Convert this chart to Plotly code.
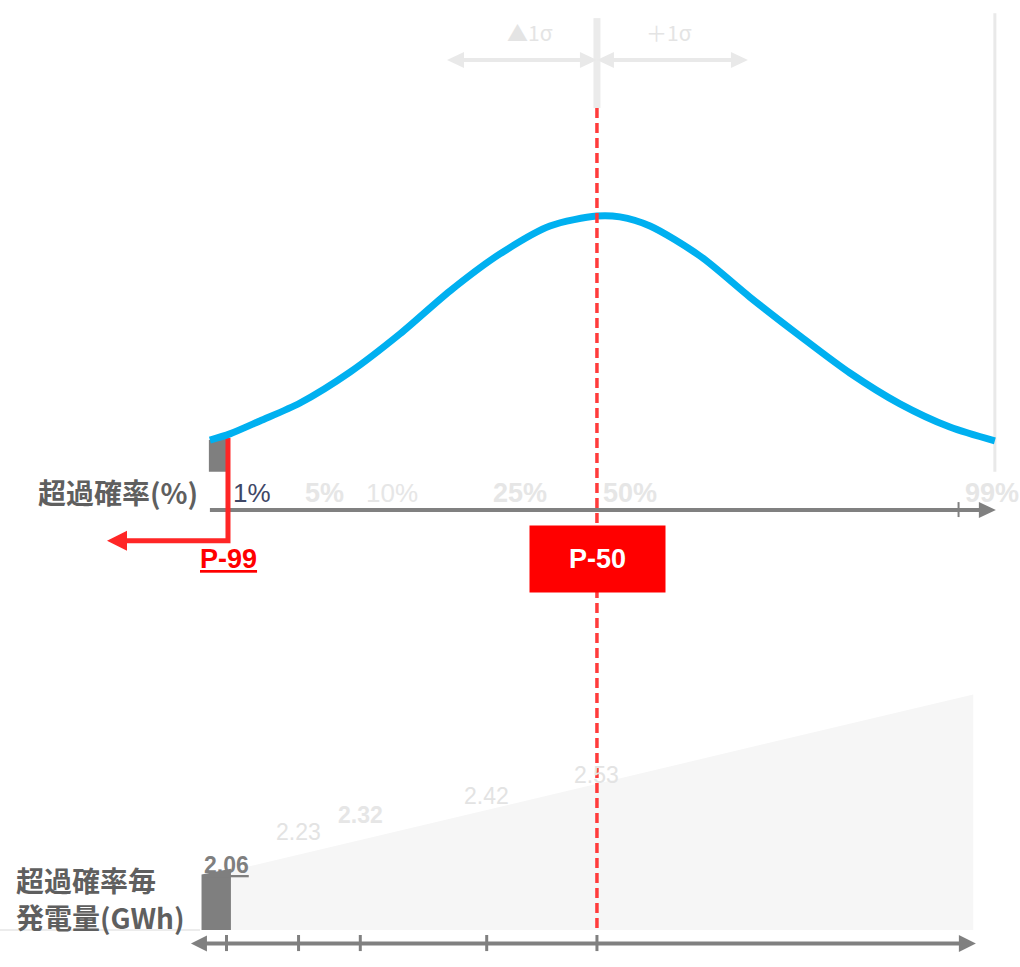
import plotly.graph_objects as go

W, H = 1020, 967

# ---------------- data ----------------
# Distribution curve: x in σ from P-50, y as density relative to the peak
curve_sigma = [-2.633, -2.497, -2.293, -2.020, -1.680, -1.340, -1.000, -0.660,
               -0.320, 0.0, 0.156, 0.361, 0.701, 1.041, 1.381, 1.721, 2.061,
               2.401, 2.707]
curve_density = [0.238, 0.259, 0.303, 0.364, 0.469, 0.599, 0.745, 0.871,
                 0.966, 1.000, 0.997, 0.966, 0.864, 0.724, 0.592, 0.466, 0.361,
                 0.282, 0.235]

# Exceedance-probability categories and their position on the σ axis
pct_labels = ["1%", "5%", "10%", "25%", "50%", "99%"]
pct_sigma = [-2.52, -2.03, -1.61, -0.75, 0.0, 2.46]

# Generation per exceedance probability (GWh)
energy_labels = ["2.06", "2.23", "2.32", "2.42", "2.53"]
energy_gwh = [2.06, 2.23, 2.32, 2.42, 2.53]

# Generation band (GWh) and the P-99 bar
band_sigma = [-2.49, 2.56]
band_top_gwh = [2.06, 2.98]
p99_bar_sigma = [-2.69, -2.49]
p99_bar_top_gwh = [2.04, 2.07]

# ---------------- axes ----------------
X_RANGE = [-4.061, 2.878]      # σ
D_RANGE = [-1.5544, 1.7347]    # relative density
G_RANGE = [1.5568, 6.6064]     # GWh
PX_X = W / (X_RANGE[1] - X_RANGE[0])
PX_D = H / (D_RANGE[1] - D_RANGE[0])
PX_G = H / (G_RANGE[1] - G_RANGE[0])

BASE_GWH = 1.75       # floor of the generation band
AXIS_GWH = 1.68       # lower arrow axis

LAT = "Liberation Sans, Arial, sans-serif"
CJK = "Noto Sans CJK JP, Noto Sans CJK SC, sans-serif"

GRID_GRAY = "#e9e9e9"
AXIS_GRAY = "#808080"
RED = "#ff2626"

fig = go.Figure()


def line(xs, ys, color, width, yaxis="y", dash=None):
    fig.add_trace(go.Scatter(
        x=xs, y=ys, yaxis=yaxis, mode="lines",
        line=dict(color=color, width=width, dash=dash),
        hoverinfo="skip", showlegend=False))


def poly(xs, ys, color, yaxis="y"):
    fig.add_trace(go.Scatter(
        x=xs, y=ys, yaxis=yaxis, mode="lines", fill="toself",
        fillcolor=color, line=dict(width=0, color=color),
        hoverinfo="skip", showlegend=False))


def head(tip_x, tip_y, direction, color, yaxis="y", length=17, half=8):
    """Filled triangular arrowhead; direction +1 points right, -1 left."""
    py = PX_D if yaxis == "y" else PX_G
    dx = length / PX_X * direction
    dy = half / py
    poly([tip_x, tip_x - dx, tip_x - dx, tip_x],
         [tip_y, tip_y + dy, tip_y - dy, tip_y], color, yaxis)
    return tip_x - dx


# ---- upper panel (density axis) ----
# light guide at P-50 above the dashed line
line([0, 0], [1.367, 1.673], "#ebebeb", 7)
# 99% guide
line([curve_sigma[-1], curve_sigma[-1]], [0.13, 1.69], GRID_GRAY, 3)

# ±1σ arrows
SIG_Y = 1.531
for a, b in [(-1.02, 0.0), (0.0, 1.027)]:
    la = head(a, SIG_Y, -1, GRID_GRAY)
    lb = head(b, SIG_Y, +1, GRID_GRAY)
    line([la - 0.02, lb + 0.02], [SIG_Y, SIG_Y], GRID_GRAY, 4)

# exceedance-probability axis
tip = 2.714
base = head(tip, 0.0, +1, AXIS_GRAY, length=17, half=8)
line([curve_sigma[0], base + 0.02], [0, 0], AXIS_GRAY, 4)
line([pct_sigma[-1], pct_sigma[-1]], [0.027, -0.024], AXIS_GRAY, 2)

# shaded tail below P-99
poly([-2.64, -2.52, -2.52, -2.64], [0.13, 0.13, 0.245, 0.238], "#7f7f7f")

# P-99 leader
p99_tip = -3.333
end = head(p99_tip, -0.105, -1, RED, length=20, half=10)
line([pct_sigma[0] + 0.01, pct_sigma[0] + 0.01, end - 0.01],
     [0.245, -0.105, -0.105], RED, 5)

# distribution curve
fig.add_trace(go.Scatter(
    x=curve_sigma, y=curve_density, mode="lines",
    line=dict(color="#00b0f0", width=7, shape="spline", smoothing=0.8),
    hoverinfo="skip", showlegend=False))

# ---- lower panel (GWh axis) ----
line([X_RANGE[0], -2.70], [BASE_GWH, BASE_GWH], "#d9d9d9", 1, "y2")
poly([band_sigma[0], band_sigma[1], band_sigma[1], band_sigma[0]],
     [BASE_GWH, BASE_GWH, band_top_gwh[1], band_top_gwh[0]], "#f6f6f6", "y2")
poly([p99_bar_sigma[0], p99_bar_sigma[1], p99_bar_sigma[1], p99_bar_sigma[0]],
     [BASE_GWH, BASE_GWH, p99_bar_top_gwh[1], p99_bar_top_gwh[0]],
     "#7f7f7f", "y2")

left_base = head(-2.762, AXIS_GWH, -1, AXIS_GRAY, "y2", length=16, half=8)
right_base = head(2.578, AXIS_GWH, +1, AXIS_GRAY, "y2", length=17, half=8.5)
line([left_base - 0.02, right_base + 0.02], [AXIS_GWH, AXIS_GWH],
     AXIS_GRAY, 4, "y2")
for s in pct_sigma[:5]:
    line([s, s], [1.724, 1.640], AXIS_GRAY, 3, "y2")

# P-50 dashed marker
line([0, 0], [6.042, BASE_GWH], "#ff3b3b", 3.5, "y2", dash="10px,5px")

# ---------------- text ----------------
ann = []

# σ labels
for txt, xs in [("▲1σ", -0.456), ("＋1σ", 0.49)]:
    ann.append(dict(x=xs, y=1.626, xref="x", yref="y", text=txt,
                    showarrow=False, font=dict(family=CJK, size=21,
                                               color="#e4e4e4")))

# exceedance-probability labels: (bold, colour, size)
pct_style = [(False, "#3f4766", 26), (True, "#e6e6e6", 27),
             (False, "#e6e6e6", 26), (True, "#e6e6e6", 27),
             (True, "#e6e6e6", 27), (True, "#e6e6e6", 27)]
for (bold, col, size), lab, s in zip(pct_style, pct_labels, pct_sigma):
    txt = "<b>%s</b>" % lab if bold else lab
    ann.append(dict(x=s, y=0.058, xref="x", yref="y", text=txt,
                    xanchor="left", xshift=4, showarrow=False,
                    font=dict(family=LAT, size=size, color=col)))

ann.append(dict(x=-2.70, y=0.061, xref="x", yref="y",
                text="<b>超過確率(%)</b>", xanchor="right", showarrow=False,
                font=dict(family=CJK, size=28, color="#5f5f5f")))

ann.append(dict(x=pct_sigma[0], y=-0.167, xref="x", yref="y",
                text="<b><u>P-99</u></b>", xshift=2, showarrow=False,
                font=dict(family=LAT, size=27, color="#ff0000")))

ann.append(dict(x=pct_sigma[4], y=-0.168, xref="x", yref="y",
                text="<b>P-50</b>", showarrow=False, bgcolor="#ff0000",
                width=135, height=66, borderpad=0, xshift=0.5,
                font=dict(family=LAT, size=27, color="#ffffff")))

# generation values
styles = [("<b><u>%s</u></b>", "#7f7f7f"), ("%s", "#e3e3e3"),
          ("<b>%s</b>", "#e6e6e6"), ("%s", "#e3e3e3"), ("%s", "#e3e3e3")]
for (fmt, col), lab, s, g in zip(styles, energy_labels, pct_sigma, energy_gwh):
    ann.append(dict(x=s, y=g, xref="x", yref="y2", text=fmt % lab,
                    yshift=6, showarrow=False,
                    font=dict(family=LAT, size=23, color=col)))

for txt, g in [("<b>超過確率毎</b>", 2.011), ("<b>発電量(GWh)</b>", 1.818)]:
    ann.append(dict(x=-3.966, y=g, xref="x", yref="y2", text=txt,
                    xanchor="left", showarrow=False,
                    font=dict(family=CJK, size=28, color="#5f5f5f")))

fig.update_layout(
    width=W, height=H,
    margin=dict(l=0, r=0, t=0, b=0, pad=0),
    paper_bgcolor="white", plot_bgcolor="white",
    showlegend=False, hovermode=False,
    xaxis=dict(range=X_RANGE, visible=False, fixedrange=True),
    yaxis=dict(range=D_RANGE, visible=False, fixedrange=True),
    yaxis2=dict(range=G_RANGE, visible=False, fixedrange=True,
                overlaying="y"),
    annotations=ann,
)

fig.write_html("out.html", config={"displayModeBar": False})
